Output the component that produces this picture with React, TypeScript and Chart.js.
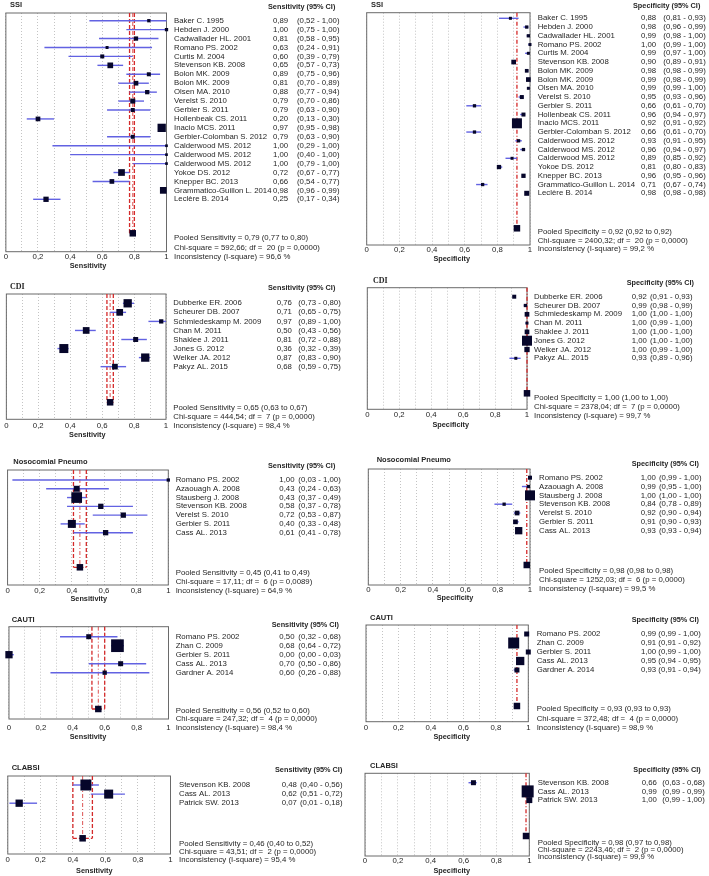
import React, { useEffect, useRef } from "react";
import { Chart, registerables } from "chart.js";
Chart.register(...registerables);

// ================= DATA =================
const xTickLabels = ["0", "0,2", "0,4", "0,6", "0,8", "1"];

// SSI
const ssiStudies = ["Baker C. 1995", "Hebden J. 2000", "Cadwallader HL. 2001", "Romano PS. 2002", "Curtis M. 2004", "Stevenson KB. 2008", "Bolon MK. 2009", "Bolon MK. 2009", "Olsen MA. 2010", "Verelst S. 2010", "Gerbier S. 2011", "Hollenbeak CS. 2011", "Inacio MCS. 2011", "Gerbier-Colomban S. 2012", "Calderwood MS. 2012", "Calderwood MS. 2012", "Calderwood MS. 2012", "Yokoe DS. 2012", "Knepper BC. 2013", "Grammatico-Guillon L. 2014", "Leclère B. 2014"];
const ssiSens = [0.89, 1.0, 0.81, 0.63, 0.6, 0.65, 0.89, 0.81, 0.88, 0.79, 0.79, 0.2, 0.97, 0.79, 1.0, 1.0, 1.0, 0.72, 0.66, 0.98, 0.25];
const ssiSensLo = [0.52, 0.75, 0.58, 0.24, 0.39, 0.57, 0.75, 0.7, 0.77, 0.7, 0.63, 0.13, 0.95, 0.63, 0.29, 0.4, 0.79, 0.67, 0.54, 0.96, 0.17];
const ssiSensHi = [1.0, 1.0, 0.95, 0.91, 0.79, 0.73, 0.96, 0.89, 0.94, 0.86, 0.9, 0.3, 0.98, 0.9, 1.0, 1.0, 1.0, 0.77, 0.77, 0.99, 0.34];
const ssiSensWeight = [3.3, 3.3, 4.3, 3, 4, 5.7, 4, 4.7, 4.3, 5, 4, 4.7, 8.3, 4, 2.7, 2.7, 2.7, 6.7, 4.7, 6.7, 5.3];
const ssiSensPooled = [0.79, 0.77, 0.8];
const ssiSensStats = ["592,66", "20", "0,0000", "96,6"];
const ssiSpec = [0.88, 0.98, 0.99, 1.0, 0.99, 0.9, 0.98, 0.99, 0.99, 0.95, 0.66, 0.96, 0.92, 0.66, 0.93, 0.96, 0.89, 0.81, 0.96, 0.71, 0.98];
const ssiSpecLo = [0.81, 0.96, 0.98, 0.99, 0.97, 0.89, 0.98, 0.98, 0.99, 0.93, 0.61, 0.94, 0.91, 0.61, 0.91, 0.94, 0.85, 0.8, 0.95, 0.67, 0.98];
const ssiSpecHi = [0.93, 0.99, 1.0, 1.0, 1.0, 0.91, 0.99, 0.99, 1.0, 0.96, 0.7, 0.97, 0.92, 0.7, 0.95, 0.97, 0.92, 0.83, 0.96, 0.74, 0.98];
const ssiSpecWeight = [3, 3.3, 3.3, 3, 3, 4.7, 3.7, 4.7, 3, 4, 3.3, 4, 10, 3.3, 3.3, 3.3, 3, 4.3, 4.3, 3.3, 5];
const ssiSpecPooled = [0.92, 0.92, 0.92];
const ssiSpecStats = ["2400,32", "20", "0,0000", "99,2"];

// CDI
const cdiStudies = ["Dubberke ER. 2006", "Scheurer DB. 2007", "Schmiedeskamp M. 2009", "Chan M. 2011", "Shaklee J. 2011", "Jones G. 2012", "Welker JA. 2012", "Pakyz AL. 2015"];
const cdiSens = [0.76, 0.71, 0.97, 0.5, 0.81, 0.36, 0.87, 0.68];
const cdiSensLo = [0.73, 0.65, 0.89, 0.43, 0.72, 0.32, 0.83, 0.59];
const cdiSensHi = [0.8, 0.75, 1.0, 0.56, 0.88, 0.39, 0.9, 0.75];
const cdiSensWeight = [8.3, 6.7, 4.3, 6.7, 5, 9, 8.3, 5.7];
const cdiSensPooled = [0.65, 0.63, 0.67];
const cdiSensStats = ["444,54", "7", "0,0000", "98,4"];
const cdiSpec = [0.92, 0.99, 1.0, 1.0, 1.0, 1.0, 1.0, 0.93];
const cdiSpecLo = [0.91, 0.98, 1.0, 0.99, 1.0, 1.0, 0.99, 0.89];
const cdiSpecHi = [0.93, 0.99, 1.0, 1.0, 1.0, 1.0, 1.0, 0.96];
const cdiSpecWeight = [4, 3.3, 4.7, 3, 4.7, 10, 5.3, 3];
const cdiSpecPooled = [1.0, 1.0, 1.0];
const cdiSpecStats = ["2378,04", "7", "0,0000", "99,7"];

// Nosocomial pneumonia
const nosoStudies = ["Romano PS. 2002", "Azaouagh A. 2008", "Stausberg J. 2008", "Stevenson KB. 2008", "Verelst S. 2010", "Gerbier S. 2011", "Cass AL. 2013"];
const nosoSens = [1.0, 0.43, 0.43, 0.58, 0.72, 0.4, 0.61];
const nosoSensLo = [0.03, 0.24, 0.37, 0.37, 0.53, 0.33, 0.41];
const nosoSensHi = [1.0, 0.63, 0.49, 0.78, 0.87, 0.48, 0.78];
const nosoSensWeight = [3.3, 6, 10.7, 5.3, 5.3, 8, 5.3];
const nosoSensPooled = [0.45, 0.41, 0.49];
const nosoSensStats = ["17,11", "6", "0,0089", "64,9"];
const nosoSpec = [1.0, 0.99, 1.0, 0.84, 0.92, 0.91, 0.93];
const nosoSpecLo = [0.99, 0.95, 1.0, 0.78, 0.9, 0.9, 0.93];
const nosoSpecHi = [1.0, 1.0, 1.0, 0.89, 0.94, 0.93, 0.94];
const nosoSpecWeight = [4, 3.3, 10, 3.3, 4.7, 4.7, 7.3];
const nosoSpecPooled = [0.98, 0.98, 0.98];
const nosoSpecStats = ["1252,03", "6", "0,0000", "99,5"];

// CAUTI
const cautiStudies = ["Romano PS. 2002", "Zhan C. 2009", "Gerbier S. 2011", "Cass AL. 2013", "Gardner A. 2014"];
const cautiSens = [0.5, 0.68, 0.0, 0.7, 0.6];
const cautiSensLo = [0.32, 0.64, 0.0, 0.5, 0.26];
const cautiSensHi = [0.68, 0.72, 0.03, 0.86, 0.88];
const cautiSensWeight = [5, 12.7, 7.3, 5, 4.3];
const cautiSensPooled = [0.56, 0.52, 0.6];
const cautiSensStats = ["247,32", "4", "0,0000", "98,4"];
const cautiSpec = [0.99, 0.91, 1.0, 0.95, 0.93];
const cautiSpecLo = [0.99, 0.91, 0.99, 0.94, 0.91];
const cautiSpecHi = [1.0, 0.92, 1.0, 0.95, 0.94];
const cautiSpecWeight = [5, 11, 5, 8.3, 5];
const cautiSpecPooled = [0.93, 0.93, 0.93];
const cautiSpecStats = ["372,48", "4", "0,0000", "98,9"];

// CLABSI
const clabsiStudies = ["Stevenson KB. 2008", "Cass AL. 2013", "Patrick SW. 2013"];
const clabsiSens = [0.48, 0.62, 0.07];
const clabsiSensLo = [0.4, 0.51, 0.01];
const clabsiSensHi = [0.56, 0.72, 0.18];
const clabsiSensWeight = [11, 9, 7.3];
const clabsiSensPooled = [0.46, 0.4, 0.52];
const clabsiSensStats = ["43,51", "2", "0,0000", "95,4"];
const clabsiSpec = [0.66, 0.99, 1.0];
const clabsiSpecLo = [0.63, 0.99, 0.99];
const clabsiSpecHi = [0.68, 0.99, 1.0];
const clabsiSpecWeight = [5, 12, 6];
const clabsiSpecPooled = [0.98, 0.97, 0.98];
const clabsiSpecStats = ["2243,46", "2", "0,0000", "99,9"];

// ================= STYLE / LAYOUT =================
const SANS = "'Liberation Sans', Arial, sans-serif";
const TXT = "#262626";
const BLUE = "#6262e2";
const RED = "#d42a2a";
const MARK = "#06062a";
const BOX = "#6a6a6a";
const GRID = "#c4c4c4";
const POOL_SIZE = 6.5;

type Lay = {
  col: number; ct: number; cb: number; L: number; R: number; T: number; B: number;
  r0: number; rs: number; pool: number; tx: number; ty: number; hx: number; hy: number;
  nx: number; vx: number; cix: number; py: number; ps: number; tickY: number; ax: number; ay: number;
};

type Cfg = {
  title: string; titleFont: string; kind: string;
  names: string[]; est: number[]; lo: number[]; hi: number[]; w: number[];
  pooled: number[]; stats: string[]; lay: Lay;
};

const TF_SANS = `bold 7.5px ${SANS}`;
const TF_SERIF = "bold 8px 'Liberation Serif', 'Times New Roman', serif";

const panels: Cfg[] = [
  { title: "SSI", titleFont: TF_SANS, kind: "Sensitivity", names: ssiStudies, est: ssiSens, lo: ssiSensLo, hi: ssiSensHi, w: ssiSensWeight, pooled: ssiSensPooled, stats: ssiSensStats,
    lay: { col: 0, ct: 0, cb: 272, L: 5.5, R: 166.5, T: 13, B: 251.7, r0: 20.7, rs: 8.93, pool: 233.3, tx: 10, ty: 4.5, hx: 268, hy: 7, nx: 174, vx: 273, cix: 297, py: 238.3, ps: 9.3, tickY: 257.3, ax: 88, ay: 265.7 } },
  { title: "SSI", titleFont: TF_SANS, kind: "Specificity", names: ssiStudies, est: ssiSpec, lo: ssiSpecLo, hi: ssiSpecHi, w: ssiSpecWeight, pooled: ssiSpecPooled, stats: ssiSpecStats,
    lay: { col: 355, ct: 0, cb: 272, L: 366.7, R: 530, T: 12.7, B: 245, r0: 18.3, rs: 8.75, pool: 228.3, tx: 371, ty: 4.5, hx: 633, hy: 5.5, nx: 537.7, vx: 641, cix: 663.3, py: 231.7, ps: 8.7, tickY: 250, ax: 451.7, ay: 259 } },
  { title: "CDI", titleFont: TF_SERIF, kind: "Sensitivity", names: cdiStudies, est: cdiSens, lo: cdiSensLo, hi: cdiSensHi, w: cdiSensWeight, pooled: cdiSensPooled, stats: cdiSensStats,
    lay: { col: 0, ct: 278, cb: 442, L: 2.5, R: 166, T: 294, B: 419.3, r0: 303.3, rs: 9.05, pool: 402.3, tx: 10, ty: 286.7, hx: 268, hy: 288.3, nx: 173.3, vx: 276.7, cix: 298.3, py: 407.7, ps: 9, tickY: 425.7, ax: 87.3, ay: 435 } },
  { title: "CDI", titleFont: TF_SERIF, kind: "Specificity", names: cdiStudies, est: cdiSpec, lo: cdiSpecLo, hi: cdiSpecHi, w: cdiSpecWeight, pooled: cdiSpecPooled, stats: cdiSpecStats,
    lay: { col: 355, ct: 274, cb: 432, L: 367.3, R: 527, T: 287.7, B: 409.3, r0: 296.7, rs: 8.8, pool: 393.3, tx: 373, ty: 281, hx: 626.7, hy: 283.3, nx: 534, vx: 631.7, cix: 650, py: 398.3, ps: 8.7, tickY: 415, ax: 450.7, ay: 425 } },
  { title: "Nosocomial Pneumo", titleFont: TF_SANS, kind: "Sensitivity", names: nosoStudies, est: nosoSens, lo: nosoSensLo, hi: nosoSensHi, w: nosoSensWeight, pooled: nosoSensPooled, stats: nosoSensStats,
    lay: { col: 0, ct: 455, cb: 606, L: 7.3, R: 168.3, T: 470, B: 585, r0: 480, rs: 8.78, pool: 567.3, tx: 13.3, ty: 461.7, hx: 268, hy: 465.5, nx: 175.7, vx: 279.3, cix: 298.3, py: 572.7, ps: 9, tickY: 590.7, ax: 88.7, ay: 599.3 } },
  { title: "Nosocomial Pneumo", titleFont: TF_SANS, kind: "Specificity", names: nosoStudies, est: nosoSpec, lo: nosoSpecLo, hi: nosoSpecHi, w: nosoSpecWeight, pooled: nosoSpecPooled, stats: nosoSpecStats,
    lay: { col: 355, ct: 453, cb: 603, L: 368.3, R: 530, T: 469, B: 585, r0: 477.7, rs: 8.83, pool: 565, tx: 376.7, ty: 460, hx: 631.7, hy: 464.3, nx: 539, vx: 640.7, cix: 659, py: 571, ps: 8.7, tickY: 590, ax: 455, ay: 597.7 } },
  { title: "CAUTI", titleFont: TF_SANS, kind: "Sensitivity", names: cautiStudies, est: cautiSens, lo: cautiSensLo, hi: cautiSensHi, w: cautiSensWeight, pooled: cautiSensPooled, stats: cautiSensStats,
    lay: { col: 0, ct: 613, cb: 744, L: 6.5, R: 168.5, T: 626.7, B: 719, r0: 636.7, rs: 9, pool: 709, tx: 11.7, ty: 620, hx: 271.7, hy: 625, nx: 175.7, vx: 279.3, cix: 298.3, py: 710.7, ps: 8.5, tickY: 727.7, ax: 88, ay: 736.7 } },
  { title: "CAUTI", titleFont: TF_SANS, kind: "Specificity", names: cautiStudies, est: cautiSpec, lo: cautiSpecLo, hi: cautiSpecHi, w: cautiSpecWeight, pooled: cautiSpecPooled, stats: cautiSpecStats,
    lay: { col: 355, ct: 611, cb: 744, L: 366, R: 528.3, T: 625, B: 721.7, r0: 634, rs: 9, pool: 706, tx: 370, ty: 617.7, hx: 631.7, hy: 620, nx: 536.7, vx: 641, cix: 658.3, py: 709.3, ps: 9.5, tickY: 728.3, ax: 451.7, ay: 737.3 } },
  { title: "CLABSI", titleFont: TF_SANS, kind: "Sensitivity", names: clabsiStudies, est: clabsiSens, lo: clabsiSensLo, hi: clabsiSensHi, w: clabsiSensWeight, pooled: clabsiSensPooled, stats: clabsiSensStats,
    lay: { col: 0, ct: 760, cb: 876, L: 5.5, R: 170.5, T: 776, B: 854, r0: 785, rs: 9.1, pool: 838.3, tx: 11.7, ty: 768.3, hx: 275, hy: 770, nx: 179, vx: 281.7, cix: 300, py: 844, ps: 7.7, tickY: 860, ax: 94.3, ay: 870.7 } },
  { title: "CLABSI", titleFont: TF_SANS, kind: "Specificity", names: clabsiStudies, est: clabsiSpec, lo: clabsiSpecLo, hi: clabsiSpecHi, w: clabsiSpecWeight, pooled: clabsiSpecPooled, stats: clabsiSpecStats,
    lay: { col: 355, ct: 758, cb: 876, L: 365, R: 529.3, T: 773.3, B: 856, r0: 782.7, rs: 8.7, pool: 836, tx: 370, ty: 765.7, hx: 633.3, hy: 770, nx: 537.7, vx: 641.7, cix: 662.3, py: 842.7, ps: 7.3, tickY: 861, ax: 451.7, ay: 870.5 } },
];

const fmt = (v: number) => v.toFixed(2).replace(".", ",");

function Forest({ cfg }: { cfg: Cfg }) {
  const ref = useRef<HTMLCanvasElement | null>(null);
  const L = cfg.lay;
  const W = 354;
  const H = L.cb - L.ct;
  useEffect(() => {
    const canvas = ref.current;
    if (!canvas) return;
    const ox = L.col, oy = L.ct;
    const yMin = (L.T - L.r0) / L.rs;
    const yMax = (L.B - L.r0) / L.rs;
    const pooledRow = (L.pool - L.r0) / L.rs;
    const textFont = `7.8px ${SANS}`;
    const boldFont = `bold 7.3px ${SANS}`;

    const plugin = {
      id: "forest",
      beforeDatasetsDraw(chart: any) {
        const { ctx, chartArea: a, scales } = chart;
        const xs = scales.x, ys = scales.y;
        const line = (x1: number, y1: number, x2: number, y2: number) => {
          ctx.beginPath(); ctx.moveTo(x1, y1); ctx.lineTo(x2, y2); ctx.stroke();
        };
        ctx.save();
        ctx.setLineDash([]);
        ctx.strokeStyle = BOX; ctx.lineWidth = 1;
        ctx.strokeRect(a.left, a.top, a.right - a.left, a.bottom - a.top);
        // pooled estimate & CI lines
        const pe = xs.getPixelForValue(cfg.pooled[0]);
        const pl = xs.getPixelForValue(cfg.pooled[1]);
        const ph = xs.getPixelForValue(cfg.pooled[2]);
        const yb = ys.getPixelForValue(pooledRow);
        ctx.strokeStyle = RED; ctx.lineWidth = 1.3;
        if (ph - pl > 3) {
          ctx.setLineDash([4, 2]);
          line(pl, a.top, pl, yb);
          line(ph, a.top, ph, yb);
          line(pl, yb, ph, yb);
          ctx.lineWidth = 0.8;
        }
        ctx.setLineDash([4, 2, 1, 2]);
        line(pe, a.top, pe, yb);
        // study CI lines
        ctx.setLineDash([]);
        ctx.strokeStyle = BLUE; ctx.lineWidth = 1.4;
        cfg.names.forEach((_, i) => {
          const y = ys.getPixelForValue(i);
          line(xs.getPixelForValue(cfg.lo[i]), y, xs.getPixelForValue(cfg.hi[i]), y);
        });
        ctx.restore();
      },
      afterDraw(chart: any) {
        const { ctx, scales } = chart;
        const xs = scales.x, ys = scales.y;
        ctx.save();
        ctx.fillStyle = TXT;
        ctx.textBaseline = "middle";
        ctx.textAlign = "left";
        ctx.font = cfg.titleFont;
        ctx.fillText(cfg.title, L.tx - ox, L.ty - oy);
        ctx.font = boldFont;
        ctx.fillText(`${cfg.kind} (95% CI)`, L.hx - ox, L.hy - oy);
        ctx.font = textFont;
        cfg.names.forEach((nm, i) => {
          const y = ys.getPixelForValue(i);
          ctx.fillText(nm, L.nx - ox, y);
          ctx.fillText(fmt(cfg.est[i]), L.vx - ox, y);
          ctx.fillText(`(${fmt(cfg.lo[i])} - ${fmt(cfg.hi[i])})`, L.cix - ox, y);
        });
        const lines = [
          `Pooled ${cfg.kind} = ${fmt(cfg.pooled[0])} (${fmt(cfg.pooled[1])} to ${fmt(cfg.pooled[2])})`,
          `Chi-square = ${cfg.stats[0]}; df =  ${cfg.stats[1]} (p = ${cfg.stats[2]})`,
          `Inconsistency (I-square) = ${cfg.stats[3]} %`,
        ];
        lines.forEach((t, k) => ctx.fillText(t, L.nx - ox, L.py - oy + k * L.ps));
        // x tick labels, positioned by the x scale
        ctx.textAlign = "center";
        (xs.ticks || []).forEach((t: any) => {
          const k = Math.round(Number(t.value) * 10);
          if (k % 2 === 0) ctx.fillText(xTickLabels[k / 2], xs.getPixelForValue(t.value), L.tickY - oy);
        });
        ctx.font = boldFont;
        ctx.fillText(cfg.kind, L.ax - ox, L.ay - oy);
        ctx.restore();
      },
    };

    const chart = new Chart(canvas, {
      type: "scatter",
      data: {
        datasets: [
          {
            data: cfg.est.map((v, i) => ({ x: v, y: i })),
            pointStyle: "rect",
            pointRadius: cfg.w.map((s) => s / Math.SQRT2),
            backgroundColor: MARK,
            borderColor: MARK,
            borderWidth: 0,
            clip: false,
          } as any,
          {
            data: [{ x: cfg.pooled[0], y: pooledRow }],
            pointStyle: "rect",
            pointRadius: POOL_SIZE / Math.SQRT2,
            backgroundColor: MARK,
            borderColor: MARK,
            borderWidth: 0,
            clip: false,
          } as any,
        ],
      },
      options: {
        responsive: false,
        animation: false,
        events: [],
        layout: { padding: { left: L.L - ox, right: ox + W - L.R, top: L.T - oy, bottom: 0 } },
        plugins: { legend: { display: false }, tooltip: { enabled: false } },
        scales: {
          x: {
            type: "linear",
            position: "bottom",
            min: 0,
            max: 1,
            afterFit: (s: any) => { s.height = L.cb - L.B; },
            ticks: { stepSize: 0.1, autoSkip: false, display: false },
            grid: { color: GRID, drawTicks: false, lineWidth: 1 },
            border: { display: false, dash: [1, 2] },
          } as any,
          y: { type: "linear", display: false, reverse: true, min: yMin, max: yMax },
        },
      },
      plugins: [plugin],
    } as any);
    return () => chart.destroy();
  }, []);
  return (
    <canvas
      ref={ref}
      width={W}
      height={H}
      style={{ position: "absolute", left: L.col, top: L.ct, width: W, height: H }}
    />
  );
}

export default function App() {
  return (
    <div style={{ position: "absolute", left: 0, top: 0, width: 709, height: 876, background: "#fff", overflow: "hidden" }}>
      {panels.map((p, i) => (
        <Forest key={i} cfg={p} />
      ))}
    </div>
  );
}
